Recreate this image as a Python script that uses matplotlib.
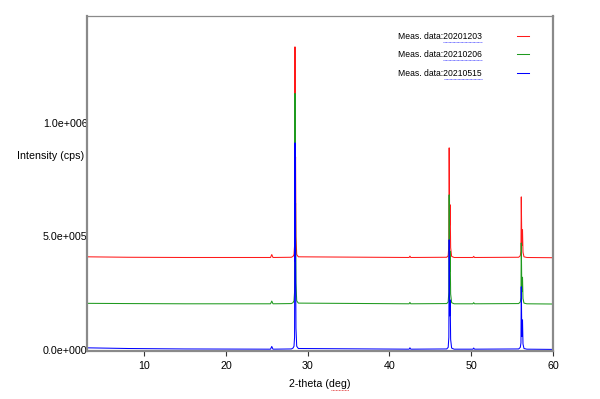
import matplotlib
matplotlib.use("Agg")
import matplotlib.pyplot as plt

# 2-theta grid (deg) shared by the three measurements
two_theta = [3, 8, 15, 25.45, 25.6, 25.75, 28.0, 28.2, 28.32, 28.39, 28.44,
             28.48, 28.51, 28.56, 28.65, 28.85, 42.4, 42.5, 42.6, 47.0, 47.18,
             47.26, 47.30, 47.36, 47.42, 47.48, 47.6, 47.9, 50.2, 50.3, 50.4,
             55.8, 56.0, 56.08, 56.12, 56.19, 56.27, 56.33, 56.45, 56.8, 60]

# intensities as stacked on the chart (cps)
int_20201203 = [410000, 408000, 407000, 407000, 420000, 407000, 408000, 412000,
                420000, 460000, 1335000, 800000, 850000, 500000, 420000, 410000,
                407000, 413000, 407000, 408000, 415000, 460000, 890000, 550000,
                639000, 450000, 412000, 407000, 407000, 412000, 407000, 408000,
                415000, 435000, 674000, 460000, 529000, 430000, 410000, 407000,
                406000]
int_20210206 = [205000, 204000, 203000, 203000, 215000, 203000, 204000, 208000,
                216000, 256000, 1130000, 596000, 646000, 296000, 216000, 206000,
                203000, 209000, 203000, 204000, 211000, 256000, 683000, 346000,
                435000, 246000, 208000, 203000, 203000, 208000, 203000, 204000,
                211000, 231000, 471000, 256000, 320000, 226000, 206000, 203000,
                202000]
int_20210515 = [9000, 6000, 4000, 3000, 15000, 3000, 4000, 8000,
                16000, 56000, 912000, 390000, 440000, 96000, 16000, 6000,
                3000, 9000, 3000, 4000, 11000, 56000, 485000, 150000,
                220000, 46000, 8000, 3000, 3000, 8000, 3000, 4000,
                11000, 31000, 278000, 60000, 132000, 26000, 6000, 3000,
                2000]

labels = ["Meas. data:20201203", "Meas. data:20210206", "Meas. data:20210515"]
colors = ["#ff1a1a", "#1f9a1f", "#0000ff"]
y_ticks = [0, 500000, 1000000]
y_ticklabels = ["0.0e+000", "5.0e+005", "1.0e+006"]
x_ticks = [10, 20, 30, 40, 50, 60]

plt.rcParams['font.family'] = ['Liberation Sans', 'DejaVu Sans']
fs = 7.7

fig = plt.figure(figsize=(6.0, 3.99), dpi=100)
fig.patch.set_facecolor('white')
# axes box: x 87..553, y 16..351 px
ax = fig.add_axes([87/600, (399-351)/399, 466/600, 335/399])

for ys, c, lab in zip([int_20201203, int_20210206, int_20210515], colors, labels):
    ax.plot(two_theta, ys, color=c, lw=0.75, label=lab)

ax.set_xlim(3, 60)
ax.set_ylim(-5000, 1471000)

ax.set_xticks(x_ticks)
ax.set_yticks(y_ticks)
ax.set_yticklabels(y_ticklabels)
ax.tick_params(axis='x', direction='out', length=3.6, width=0.8, color='#333333',
               pad=3.6, labelsize=fs)
ax.tick_params(axis='y', length=0, pad=-0.5, labelsize=fs)

for side in ['left', 'right', 'bottom']:
    ax.spines[side].set_color('#8a8a8a')
    ax.spines[side].set_linewidth(1.6)
ax.spines['top'].set_color('#8a8a8a')
ax.spines['top'].set_linewidth(0.9)

ax.set_xlabel("2-theta (deg)", fontsize=fs, labelpad=6)
fig.text(17/600, 1 - 156/399, "Intensity (cps)", fontsize=fs, ha='left', va='center')

leg = ax.legend(loc='upper right', bbox_to_anchor=((529-87)/466, (351-32)/335),
                frameon=False, markerfirst=False, fontsize=6.2, handlelength=1.45,
                handletextpad=4.0, labelspacing=1.1, borderpad=0, borderaxespad=0)

# spell-check style underlines seen in the original
fig.canvas.draw()
renderer = fig.canvas.get_renderer()
inv = fig.transFigure.inverted()
for t in leg.get_texts():
    bb = t.get_window_extent(renderer)
    x0 = bb.x0 + 0.54 * bb.width
    (fx0, fy), (fx1, _) = inv.transform([(x0, bb.y0 - 1), (bb.x1, bb.y0 - 1)])
    fig.add_artist(plt.Line2D([fx0, fx1], [fy, fy], color='#5050ff', lw=0.6,
                              ls=(0, (1, 0.6))))
xl = ax.xaxis.label.get_window_extent(renderer)
x0 = xl.x0 + 0.68 * xl.width
(fx0, fy), (fx1, _) = inv.transform([(x0, xl.y0 - 1), (xl.x1 - 2, xl.y0 - 1)])
fig.add_artist(plt.Line2D([fx0, fx1], [fy, fy], color='#e03030', lw=0.6,
                          ls=(0, (1, 0.8))))

fig.savefig("out.png", dpi=100)
